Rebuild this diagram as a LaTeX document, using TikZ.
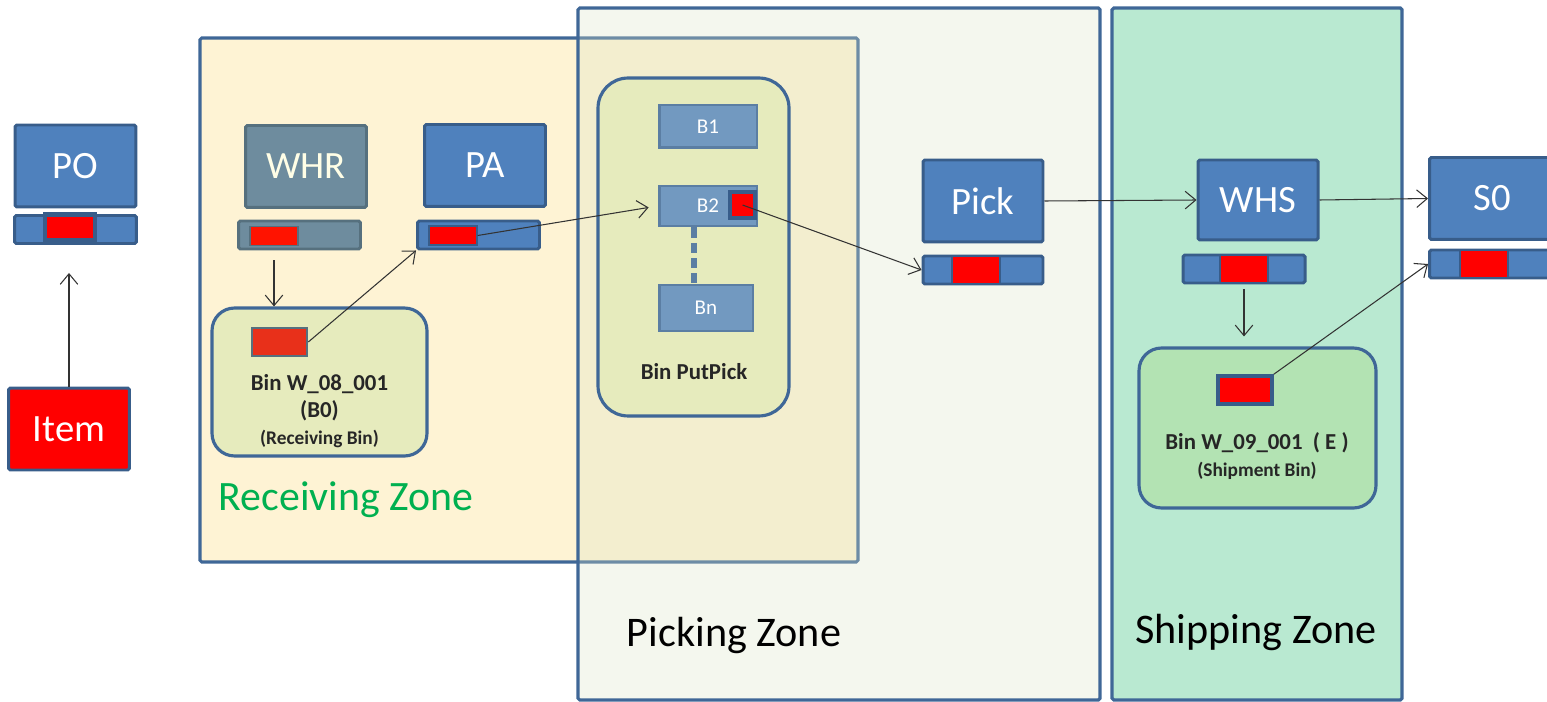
\documentclass[tikz,border=0pt]{standalone}
\usepackage{fontspec}
\setmainfont{Carlito}
\usetikzlibrary{arrows.meta}
\definecolor{docblue}{HTML}{4F81BD}
\definecolor{docedge}{HTML}{385D8A}
\definecolor{whrgrey}{HTML}{6E8C9E}
\definecolor{whredge}{HTML}{56707E}
\definecolor{cellblue}{HTML}{7299C0}
\definecolor{celledge}{HTML}{5B7EA3}
\definecolor{recvfill}{HTML}{FEF3D4}
\definecolor{pickfill}{HTML}{DAE4C6}
\definecolor{shipfill}{HTML}{B9E9D1}
\definecolor{binfill}{HTML}{E6EBBD}
\definecolor{shipbinfill}{HTML}{B3E3B3}
\definecolor{zoneedge}{HTML}{3F6797}
\definecolor{zonegreen}{HTML}{00B050}
\definecolor{recvred}{HTML}{E8301A}
\tikzstyle{doc} = [rectangle, draw=docedge, fill=docblue, line width=1.7pt, rounded corners=1pt, inner sep=0pt, minimum width=2.42cm, minimum height=1.64cm, text=white, font=\fontsize{22}{26}\selectfont]
\tikzstyle{strip} = [rectangle, draw=docedge, fill=docblue, line width=1.7pt, rounded corners=1pt, inner sep=0pt, minimum width=2.44cm, minimum height=0.56cm]
\tikzstyle{tab} = [rectangle, draw=docedge, fill=red, line width=1.2pt, inner sep=0pt, minimum width=0.96cm, minimum height=0.4cm]
\tikzstyle{bin} = [rectangle, rounded corners=0.45cm, draw=zoneedge, line width=1.8pt, inner sep=0pt]
\tikzstyle{cell} = [rectangle, draw=celledge, fill=cellblue, line width=1.7pt, inner sep=0pt, minimum width=1.96cm, text=white, font=\fontsize{12}{14}\selectfont]
\tikzstyle{zone} = [draw=zoneedge, line width=1.8pt, rounded corners=1pt]
\tikzstyle{zonelabel} = [font=\fontsize{24}{28}\selectfont]
\tikzstyle{binlabel} = [font=\bfseries\fontsize{13}{15.5}\selectfont, text=black!85, align=center]
\tikzstyle{arrow} = [draw=black!80, line width=0.6pt, -{Straight Barb[length=6pt,width=10pt]}]

\begin{document}
\begin{tikzpicture}[x=0.02cm, y=-0.02cm]
    \useasboundingbox (0,0) rectangle (1547,702);

    % zones
    \draw [zone, fill=recvfill] (200,38) rectangle (858,562);
    \draw [zone, fill=pickfill, fill opacity=0.3] (578,8) rectangle (1100,700);
    \draw [zone, fill=shipfill] (1112,8) rectangle (1402,700);

    \node (recvZone) [zonelabel, text=zonegreen, font=\fontsize{23.8}{28}\selectfont] at (346,500) {Receiving Zone};
    \node (pickZone) [zonelabel] at (734,635) {Picking Zone};
    \node (shipZone) [zonelabel] at (1256,632) {Shipping Zone};

    % PO and item
    \node (po) [doc] at (75.5,166) {PO};
    \node (poStrip) [strip] at (75.5,229.5) {};
    \node (poTab) [tab, line width=2.8pt, minimum width=1cm, minimum height=0.52cm] at (70,227.5) {};
    \node (item) [doc, fill=red] at (69,429) {Item};

    % receiving
    \node (whr) [doc, draw=whredge, fill=whrgrey, text=white!90!yellow] at (306,166.5) {WHR};
    \node (whrStrip) [strip, draw=whredge, fill=whrgrey] at (299.5,235) {};
    \node (whrTab) [tab, draw=whredge, fill=red!85!orange, line width=0.8pt, minimum height=0.38cm] at (274,236) {};

    \node (pa) [doc] at (485,165.5) {PA};
    \node (paStrip) [strip] at (478.5,235) {};
    \node (paTab) [tab, line width=0.8pt, minimum height=0.38cm] at (453,235.5) {};

    \node (recvBin) [bin, fill=binfill, minimum width=4.3cm, minimum height=2.96cm] at (319.5,382) {};
    \node (recvTab) [tab, draw=whredge, fill=recvred, line width=1.5pt, minimum width=1.1cm, minimum height=0.56cm] at (279.5,342) {};
    \node (recvLabel) [binlabel] at (319.5,411) {Bin W\_08\_001\\(B0)\\{\fontsize{11}{13}\selectfont(Receiving Bin)}};

    % picking
    \node (putPick) [bin, fill=binfill, rounded corners=0.6cm, minimum width=3.82cm, minimum height=6.76cm] at (693.5,247) {};
    \node (b1) [cell, minimum height=0.86cm] at (708,126.5) {B1};
    \node (b2) [cell, minimum height=0.8cm] at (708,206) {B2};
    \node (b2Tab) [tab, draw=docedge, line width=2pt, minimum width=0.5cm, minimum height=0.52cm] at (742.5,205) {};
    \node (bn) [cell, minimum width=1.88cm, minimum height=0.92cm] at (706,308) {Bn};
    \node (putPickLabel) [binlabel] at (694,372) {Bin PutPick};
    \draw [celledge, line width=3pt, dash pattern=on 5.7pt off 3pt] ([xshift=-0.28cm]b2.south) -- ([xshift=-0.28cm]b2.south |- bn.north);

    \node (pick) [doc, minimum width=2.4cm] at (983,201) {Pick};
    \node (pickStrip) [strip, minimum width=2.4cm] at (983,270) {};
    \node (pickTab) [tab, minimum height=0.56cm] at (976,270) {};

    % shipping
    \node (whs) [doc, minimum width=2.4cm, minimum height=1.6cm] at (1258,200) {WHS};
    \node (whsStrip) [strip] at (1244,269) {};
    \node (whsTab) [tab, minimum height=0.56cm] at (1244,269) {};

    \node (shipBin) [bin, fill=shipbinfill, minimum width=4.74cm, minimum height=3.2cm] at (1257.5,428) {};
    \node (shipTab) [tab, line width=2pt, minimum width=1.08cm, minimum height=0.56cm] at (1245,390) {};
    \node (shipLabel) [binlabel] at (1257,456) {Bin W\_09\_001~~( E )\\{\fontsize{11}{13}\selectfont(Shipment Bin)}};

    \node (so) [doc, minimum width=2.5cm] at (1492,198.5) {S0};
    \node (soStrip) [strip, minimum width=2.5cm] at (1492,264) {};
    \node (soTab) [tab, minimum height=0.56cm] at (1484,264) {};

    % flows
    \draw [arrow, shorten >=0.56cm] (item.north) -- (item.north |- poStrip.south);
    \draw [arrow, shorten <=0.28cm] (whrTab.south) -- (whrTab.south |- recvBin.north);
    \draw [arrow] (recvTab.east) -- (paStrip.south west);
    \draw [arrow, shorten >=0.18cm] (paTab.east) -- (b2.west);
    \draw [arrow] (b2Tab.center) -- (pickStrip.west);
    \draw [arrow] (pick.east) -- (whs.west);
    \draw [arrow] (whs.east) -- (so.west);
    \draw [arrow, shorten <=0.1cm, shorten >=0.2cm] (whsStrip.south) -- (whsStrip.south |- shipBin.north);
    \draw [arrow] (shipTab.north east) -- (soStrip.west);
\end{tikzpicture}
\end{document}
